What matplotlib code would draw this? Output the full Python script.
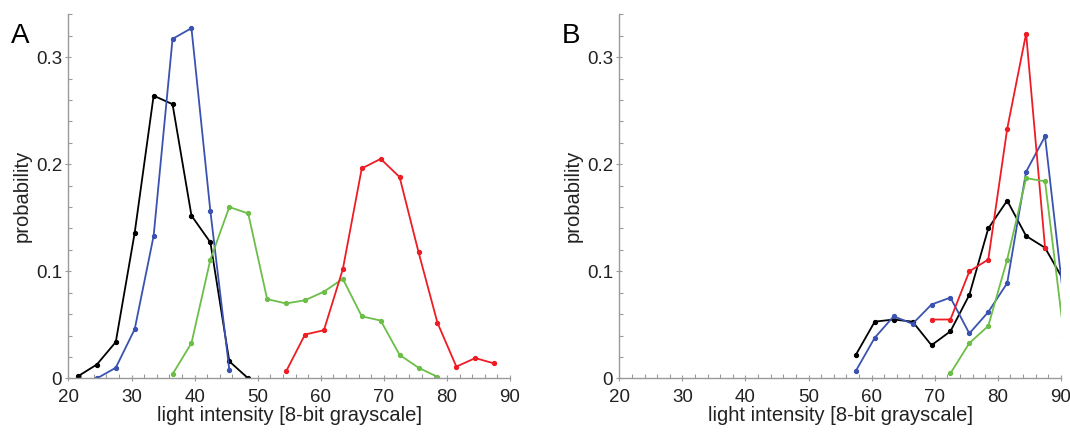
import matplotlib
matplotlib.use("Agg")
import matplotlib.pyplot as plt
from matplotlib.ticker import MultipleLocator

plt.rcParams['font.family'] = ['Liberation Sans', 'DejaVu Sans']

# panel A - bin centres and probabilities
a_black_x = [21.5, 24.5, 27.5, 30.5, 33.5, 36.5, 39.5, 42.5, 45.5, 48.5]
a_black_y = [0.002, 0.013, 0.034, 0.136, 0.264, 0.256, 0.152, 0.127, 0.016, 0.0]
a_blue_x = [24.5, 27.5, 30.5, 33.5, 36.5, 39.5, 42.5, 45.5]
a_blue_y = [0.0, 0.010, 0.046, 0.133, 0.317, 0.327, 0.156, 0.008]
a_green_x = [36.5, 39.5, 42.5, 45.5, 48.5, 51.5, 54.5, 57.5, 60.5, 63.5, 66.5, 69.5, 72.5, 75.5, 78.5]
a_green_y = [0.004, 0.033, 0.111, 0.160, 0.154, 0.074, 0.070, 0.073, 0.081, 0.093,
             0.058, 0.054, 0.022, 0.010, 0.0015]
a_red_x = [54.5, 57.5, 60.5, 63.5, 66.5, 69.5, 72.5, 75.5, 78.5, 81.5, 84.5, 87.5]
a_red_y = [0.0065, 0.041, 0.045, 0.102, 0.196, 0.205, 0.188, 0.118, 0.052, 0.011, 0.019, 0.014]

# panel B
b_black_x = [57.5, 60.5, 63.5, 66.5, 69.5, 72.5, 75.5, 78.5, 81.5, 84.5, 87.5, 90.5]
b_black_y = [0.022, 0.053, 0.055, 0.053, 0.031, 0.044, 0.078, 0.140, 0.166, 0.133, 0.122, 0.091]
b_blue_x = [57.5, 60.5, 63.5, 66.5, 69.5, 72.5, 75.5, 78.5, 81.5, 84.5, 87.5, 90.5]
b_blue_y = [0.007, 0.038, 0.058, 0.051, 0.069, 0.0755, 0.042, 0.062, 0.089, 0.193, 0.226, 0.071]
b_red_x = [69.5, 72.5, 75.5, 78.5, 81.5, 84.5, 87.5]
b_red_y = [0.055, 0.055, 0.100, 0.111, 0.233, 0.322, 0.122]
b_green_x = [72.5, 75.5, 78.5, 81.5, 84.5, 87.5, 90.5]
b_green_y = [0.0047, 0.033, 0.049, 0.111, 0.187, 0.184, 0.040]

black = '#000000'
blue = '#3a52b0'
red = '#ee1c24'
green = '#6cbe48'
spine_col = '#9a9a9a'
text_col = '#222222'

fig = plt.figure(figsize=(10.7, 4.32), dpi=100)
ax_a = fig.add_axes([0.064, 0.124, 0.4126, 0.843])
ax_b = fig.add_axes([0.5788, 0.124, 0.4126, 0.843])

panels = [
    (ax_a, 'A', [(a_black_x, a_black_y, black), (a_blue_x, a_blue_y, blue),
                 (a_green_x, a_green_y, green), (a_red_x, a_red_y, red)]),
    (ax_b, 'B', [(b_black_x, b_black_y, black), (b_blue_x, b_blue_y, blue),
                 (b_red_x, b_red_y, red), (b_green_x, b_green_y, green)]),
]

for ax, letter, series in panels:
    for x, y, c in series:
        ax.plot(x, y, color=c, lw=1.3, marker='o', ms=2.8)
    ax.set_xlim(20, 90)
    ax.set_ylim(0, 0.34)
    ax.spines['top'].set_visible(False)
    ax.spines['right'].set_visible(False)
    for s in ['left', 'bottom']:
        ax.spines[s].set_color(spine_col)
        ax.spines[s].set_linewidth(1.0)
    ax.xaxis.set_major_locator(MultipleLocator(10))
    ax.xaxis.set_minor_locator(MultipleLocator(2))
    ax.yaxis.set_minor_locator(MultipleLocator(0.02))
    ax.set_yticks([0, 0.1, 0.2, 0.3])
    ax.set_yticklabels(['0', '0.1', '0.2', '0.3'])
    ax.tick_params(which='major', direction='inout', length=5, width=0.8, color=spine_col,
                   labelsize=13.5, labelcolor=text_col, pad=2)
    ax.tick_params(axis='x', which='major', pad=5)
    ax.tick_params(which='minor', direction='in', length=3, width=0.8, color=spine_col)
    ax.set_xlabel('light intensity [8-bit grayscale]', fontsize=14.5, color=text_col, labelpad=0)
    ax.set_ylabel('probability', fontsize=14.5, color=text_col, labelpad=3)
    ax.text(-0.13, 0.975, letter, transform=ax.transAxes, fontsize=20, color='black',
            ha='left', va='top')

fig.savefig('out.png', dpi=100)
